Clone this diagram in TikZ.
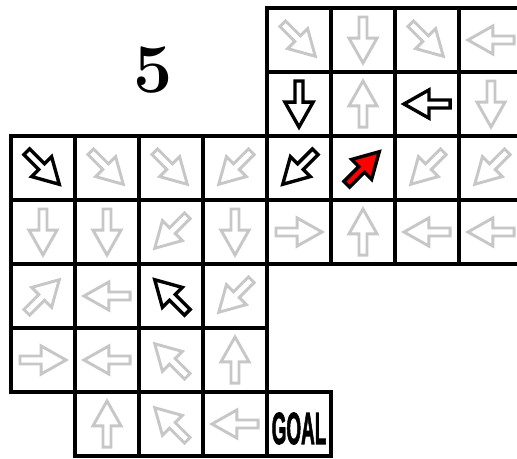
\documentclass[tikz,border=0pt]{standalone}
\usepackage{fontspec}
\newfontfamily\goalfont{Liberation Sans}[BoldFeatures={FakeBold=2.5}]
\usetikzlibrary{positioning}

\begin{document}
\begin{tikzpicture}[
	grid line/.style={draw=black, line width=1.4pt},
	ghost/.style={draw=black!22, fill=white, line width=1.3pt},
	move/.style={draw=black, fill=white, line width=1.5pt},
	hit/.style={draw=black, fill=red, line width=1.5pt},
	arrw/.pic={
		\draw[pic actions, line join=miter]
			(-0.36,-0.0625) -- (-0.03,-0.0625) -- (-0.03,-0.22) -- (0.36,0)
			-- (-0.03,0.22) -- (-0.03,0.0625) -- (-0.36,0.0625) -- cycle;
	}
	]
	
	% frame of the page (right column is cut off)
	\useasboundingbox (-0.172,0.125) rectangle (7.906,-7.031);
	\clip (-0.172,0.125) rectangle (7.906,-7.031);
	
	% --- CELLS ---
	\foreach \c/\r in {4/0,5/0,6/0,7/0, 4/1,5/1,6/1,7/1,
		0/2,1/2,2/2,3/2,4/2,5/2,6/2,7/2,
		0/3,1/3,2/3,3/3,4/3,5/3,6/3,7/3,
		0/4,1/4,2/4,3/4, 0/5,1/5,2/5,3/5, 1/6,2/6,3/6,4/6}
		\draw[grid line] (\c,-\r) rectangle ++(1,-1);
	
	% --- GREY ARROWS ---
	\foreach \c/\r/\a in {4/0/315,5/0/270,6/0/315,7/0/180,
		5/1/90,7/1/270,
		1/2/315,2/2/315,3/2/225,6/2/225,7/2/225,
		0/3/270,1/3/270,2/3/225,3/3/270,4/3/0,5/3/90,6/3/180,7/3/180,
		0/4/45,1/4/180,3/4/225,
		0/5/0,1/5/180,2/5/135,3/5/90,
		1/6/90,2/6/135,3/6/180}
		\pic[ghost, rotate=\a] at (\c+0.5,-\r-0.5) {arrw};
	
	% --- BLACK ARROWS ---
	\foreach \c/\r/\a in {4/1/270,6/1/180,0/2/315,4/2/225,2/4/135}
		\pic[move, rotate=\a] at (\c+0.5,-\r-0.5) {arrw};
	
	% --- RED ARROW ---
	\pic[hit, rotate=45] at (5.5,-2.5) {arrw};
	
	% --- LABELS ---
	\node (level) at (2.22,-0.97) {\fontsize{31}{36}\selectfont\bfseries 5};
	\node (goal) at (4.5,-6.57) {\scalebox{0.42}[1]{\goalfont\fontsize{20}{22}\selectfont\bfseries GOAL}};
	
\end{tikzpicture}
\end{document}
